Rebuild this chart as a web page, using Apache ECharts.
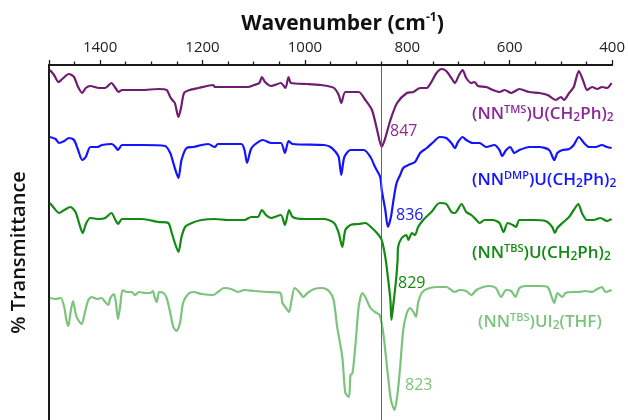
<!DOCTYPE html>
<html>
<head>
<meta charset="utf-8">
<script src="https://cdn.jsdelivr.net/npm/echarts@6/dist/echarts.min.js"></script>
<style>html,body{margin:0;padding:0;background:#fff}#chart{width:628px;height:420px}</style>
</head>
<body>
<div id="chart"></div>
<script>
let $ = a => document.querySelector(a)

// x tick labels (cm-1), axis runs 1500 -> 400
const xTicks = [1400, 1200, 1000, 800, 600, 400]

// spectra: [wavenumber, offset transmittance]
const tmsSpectrum = [[1498,350],[1490,345],[1481,338],[1474,341],[1461,346],[1451,343],[1443,333],[1435,327],[1428,332],[1419,334],[1402,332],[1390,332],[1378,337],[1370,332],[1364,328],[1357,330],[1318,330],[1286,331],[1270,330],[1263,323],[1259,320],[1254,317],[1247,303],[1242,312],[1236,327],[1225,330],[1208,332],[1179,335],[1176,333],[1150,333],[1111,333],[1099,335],[1089,337],[1084,343],[1078,338],[1066,334],[1047,337],[1038,332],[1032,343],[1027,337],[995,336],[969,335],[956,334],[943,332],[934,325],[929,317],[921,328],[895,328],[882,320],[869,310],[859,290],[850,273],[843,282],[833,300],[820,317],[801,327],[788,328],[775,332],[762,332],[753,338],[743,347],[733,351],[724,349],[714,342],[707,337],[699,345],[692,350],[685,342],[675,337],[669,338],[662,334],[646,333],[633,330],[620,328],[610,330],[597,327],[581,331],[562,328],[542,327],[526,325],[510,320],[500,323],[494,320],[484,327],[475,333],[465,349],[455,337],[449,330],[439,333],[429,331],[420,333],[410,332],[401,337]]

const dmpSpectrum = [[1498,283],[1487,281],[1480,277],[1470,279],[1461,282],[1451,280],[1443,270],[1435,260],[1428,263],[1419,273],[1406,273],[1396,275],[1377,276],[1370,273],[1365,270],[1357,275],[1318,275],[1273,274],[1263,267],[1257,257],[1251,247],[1247,242],[1241,260],[1231,272],[1218,273],[1189,276],[1176,273],[1170,276],[1124,276],[1118,270],[1113,257],[1106,270],[1099,275],[1082,280],[1066,277],[1047,277],[1039,267],[1032,279],[1024,276],[963,275],[950,273],[940,268],[934,263],[929,245],[923,263],[911,270],[885,270],[872,263],[863,253],[853,243],[850,230],[843,210],[838,193],[832,203],[827,220],[821,237],[814,245],[808,252],[798,255],[785,258],[775,267],[762,272],[749,278],[737,283],[724,282],[714,277],[707,272],[701,278],[692,283],[685,280],[672,277],[659,277],[646,273],[630,275],[620,270],[615,264],[607,270],[599,273],[591,267],[581,270],[562,273],[542,273],[523,270],[513,260],[507,267],[497,270],[484,271],[475,275],[465,283],[455,277],[445,273],[432,273],[420,275],[410,273],[401,272]]

const tbsSpectrum = [[1498,217],[1490,212],[1480,207],[1470,210],[1458,213],[1448,208],[1440,195],[1434,187],[1427,197],[1419,202],[1402,201],[1390,202],[1378,207],[1370,200],[1365,196],[1357,201],[1318,201],[1286,198],[1267,197],[1260,187],[1254,177],[1247,168],[1241,183],[1234,193],[1221,197],[1202,200],[1176,201],[1150,200],[1118,200],[1105,203],[1092,203],[1084,210],[1076,205],[1066,202],[1047,205],[1039,195],[1031,210],[1024,203],[1002,201],[963,201],[943,197],[934,187],[927,173],[921,190],[911,195],[895,196],[882,197],[869,192],[856,185],[850,180],[843,163],[838,143],[833,120],[831,100],[827,117],[822,140],[819,160],[818,173],[811,182],[802,185],[798,180],[791,187],[785,185],[779,193],[769,200],[753,208],[737,217],[724,216],[714,208],[707,207],[694,216],[685,208],[675,205],[665,200],[659,197],[649,200],[633,200],[620,197],[612,188],[604,197],[594,195],[588,193],[581,200],[556,200],[530,199],[517,193],[512,187],[507,192],[497,197],[484,203],[475,210],[466,216],[459,207],[449,200],[436,200],[423,202],[410,199],[401,201]]

const thfSpectrum = [[1498,122],[1487,121],[1477,122],[1470,113],[1466,100],[1462,94],[1458,107],[1453,119],[1448,107],[1445,102],[1436,96],[1430,107],[1423,120],[1416,123],[1406,121],[1397,122],[1390,118],[1384,115],[1380,122],[1373,126],[1369,117],[1365,101],[1361,113],[1356,130],[1348,128],[1338,128],[1332,125],[1324,128],[1312,127],[1302,127],[1297,129],[1293,122],[1289,118],[1285,128],[1276,127],[1270,122],[1263,107],[1257,93],[1251,89],[1244,97],[1238,117],[1228,126],[1218,128],[1202,126],[1179,125],[1170,128],[1158,132],[1144,131],[1131,128],[1118,130],[1099,129],[1073,128],[1048,127],[1044,117],[1037,112],[1031,108],[1026,120],[1020,132],[1011,128],[1003,123],[995,127],[982,131],[966,132],[953,129],[944,120],[937,93],[927,63],[921,27],[914,23],[911,45],[907,47],[901,77],[895,113],[888,127],[882,123],[872,112],[863,108],[854,105],[847,87],[839,50],[832,20],[825,10],[819,27],[814,53],[808,90],[801,107],[795,112],[788,108],[783,103],[779,117],[772,127],[762,131],[743,133],[724,133],[707,128],[698,130],[685,129],[675,125],[665,130],[652,133],[640,134],[627,132],[617,123],[607,130],[597,129],[589,123],[581,132],[568,134],[542,134],[526,133],[518,123],[513,117],[507,127],[497,123],[491,127],[478,128],[465,128],[452,129],[439,128],[429,131],[420,133],[413,128],[401,130]]

// reference line through the TMS band, and the top of the y range
const refLine = 850
const yTop = 355

const purple = '#701c72'
const purpleText = '#8a2a98'
const blue = '#1414ff'
const green = '#138a13'
const lightGreen = '#7cc47c'

const FONT = '"Open Sans", "DejaVu Sans", sans-serif'

function spec(name, data, color) {
    return {
        name: name,
        type: 'line',
        data: data,
        showSymbol: false,
        smooth: 0.25,
        lineStyle: {color: color, width: 2.2},
        z: 3
    }
}

// rich text pieces for the compound names
function makeRich(color) {
    return {
        n: {color: color, fontSize: 17, fontFamily: FONT, fontWeight: 600, lineHeight: 20},
        sup: {color: color, fontSize: 11, fontFamily: FONT, fontWeight: 600, lineHeight: 12, verticalAlign: 'top'},
        sub: {color: color, fontSize: 12, fontFamily: FONT, fontWeight: 600, lineHeight: 14, verticalAlign: 'bottom'}
    }
}

// labels are title boxes: left edge + top (= text centre - 10)
function nameTitle(left, top, text, color) {
    return {
        text: text, left: left, top: top, padding: 0,
        textStyle: {color: color, fontSize: 17, fontFamily: FONT, fontWeight: 600, lineHeight: 20, rich: makeRich(color)}
    }
}

function peakTitle(left, top, text, color) {
    return {
        text: text, left: left, top: top, padding: 0,
        textStyle: {color: color, fontSize: 16, fontFamily: FONT, fontWeight: 'normal', lineHeight: 20}
    }
}

let series = [
    spec('TMS', tmsSpectrum, purple),
    spec('DMP', dmpSpectrum, blue),
    spec('TBS', tbsSpectrum, green),
    spec('THF', thfSpectrum, lightGreen)
]
series[0].markLine = {
    silent: true,
    symbol: 'none',
    label: {show: false},
    data: [
        {xAxis: refLine, lineStyle: {color: '#666', width: 1, type: 'solid'}},
        {yAxis: yTop, lineStyle: {color: '#1a1a1a', width: 2, type: 'solid'}}
    ]
}

echarts.init($('#chart')).setOption({
    animation: false,
    grid: {left: 47, right: 15, top: 65, bottom: 0},
    title: [
        nameTitle(472, 104, '{n|(NN}{sup|TMS}{n|)U(CH}{sub|2}{n|Ph)}{sub|2}', purpleText),
        nameTitle(472, 170, '{n|(NN}{sup|DMP}{n|)U(CH}{sub|2}{n|Ph)}{sub|2}', blue),
        nameTitle(472, 243, '{n|(NN}{sup|TBS}{n|)U(CH}{sub|2}{n|Ph)}{sub|2}', green),
        nameTitle(478, 312, '{n|(NN}{sup|TBS}{n|)UI}{sub|2}{n|(THF)}', lightGreen),
        peakTitle(390, 121, '847', purpleText),
        peakTitle(396, 205, '836', blue),
        peakTitle(398, 273, '829', green),
        peakTitle(405, 375, '823', lightGreen)
    ],
    xAxis: {
        type: 'value',
        position: 'top',
        inverse: true,
        min: 400,
        max: 1500,
        interval: 200,
        name: '{t|Wavenumber (cm}{s|-1}{t|)}',
        nameLocation: 'middle',
        nameGap: 29,
        nameTextStyle: {
            color: '#111',
            padding: [0, 0, 0, 24],
            rich: {
                t: {color: '#111', fontSize: 21, fontWeight: 'bold', fontFamily: FONT, lineHeight: 24},
                s: {color: '#111', fontSize: 12, fontWeight: 'bold', fontFamily: FONT, lineHeight: 14, verticalAlign: 'top'}
            }
        },
        axisLine: {show: true, onZero: false, lineStyle: {color: '#1a1a1a', width: 2}},
        axisTick: {show: true, length: 5, lineStyle: {color: '#1a1a1a', width: 1.3}},
        minorTick: {show: true, splitNumber: 4, length: 3.5, lineStyle: {color: '#1a1a1a', width: 1.3}},
        splitLine: {show: false},
        axisLabel: {
            margin: 10,
            color: '#222',
            fontSize: 15,
            fontFamily: FONT,
            showMaxLabel: false,
            formatter: v => xTicks.includes(v) ? String(v) : ''
        }
    },
    yAxis: {
        type: 'value',
        min: 0,
        max: yTop,
        name: '% Transmittance',
        nameLocation: 'middle',
        nameRotate: 90,
        nameGap: 13,
        nameTextStyle: {color: '#111', fontSize: 20, fontWeight: 600, fontFamily: FONT, lineHeight: 22, padding: [0, 20, 0, 0]},
        axisLine: {show: true, onZero: false, lineStyle: {color: '#1a1a1a', width: 2}},
        axisTick: {show: false},
        axisLabel: {show: true, formatter: () => ''},
        splitLine: {show: true, lineStyle: {opacity: 0}}
    },
    series: series
})
</script>
</body>
</html>
